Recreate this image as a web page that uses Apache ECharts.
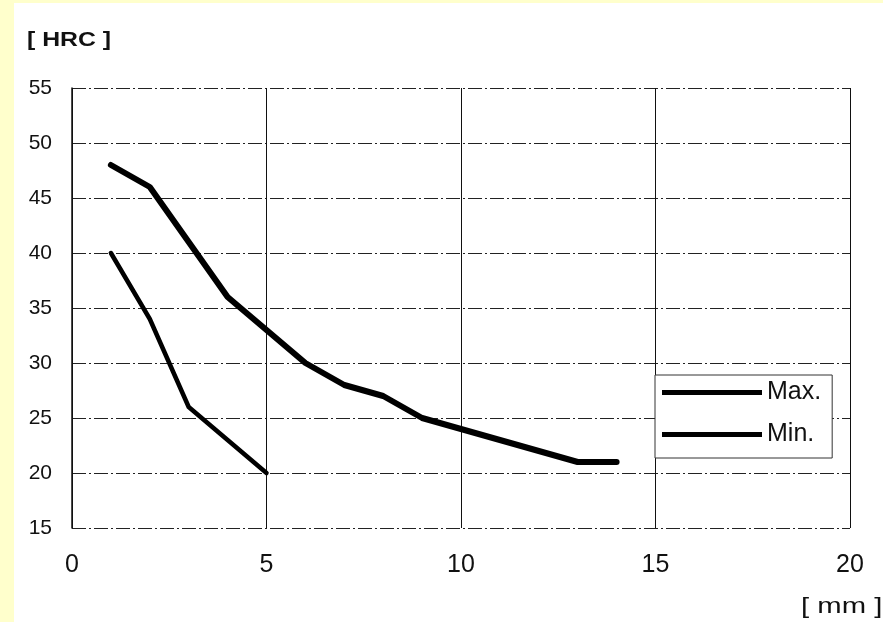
<!DOCTYPE html>
<html>
<head>
<meta charset="utf-8">
<script src="https://cdn.jsdelivr.net/npm/echarts@6/dist/echarts.min.js"></script>
<style>
html,body{margin:0;padding:0;background:#fff;}
#c{width:883px;height:622px;}
</style>
</head>
<body>
<div id="c"></div>
<script>
const depthMm = [1, 2, 3, 4, 5, 6, 7, 8, 9, 10, 11, 12, 13, 14];
const maxHrc = [48, 46, 41, 36, 33, 30, 28, 27, 25, 24, 23, 22, 21, 21];
const minDepthMm = [1, 2, 3, 4, 5];
const minHrc = [40, 34, 26, 23, 20];
const xTicks = [0, 5, 10, 15, 20];
const yTicks = [15, 20, 25, 30, 35, 40, 45, 50, 55];
const seriesNames = ['Max.', 'Min.'];
const yUnit = '[ HRC ]';
const xUnit = '[ mm ]';

const chart = echarts.init(document.getElementById('c'), null, {renderer: 'canvas'});
const pair = (xs, ys) => xs.map((x, i) => [x, ys[i]]);
const narrow = '"Liberation Sans Narrow", "Liberation Sans", Arial, sans-serif';
chart.setOption({
  backgroundColor: '#ffffff',
  animation: false,
  graphic: [
    {type: 'rect', left: 0, top: 0, shape: {width: 14, height: 622}, style: {fill: '#FFFFCC'}, z: -10},
    {type: 'rect', left: 0, top: 0, shape: {width: 883, height: 3}, style: {fill: '#FFFFCC'}, z: -10},
    {type: 'text', x: 27, y: 30, scaleX: 1.24, style: {text: yUnit, font: 'bold 20px "Liberation Sans", Arial, sans-serif', fill: '#111'}},
    {type: 'text', x: 801, y: 596, scaleX: 1.33, style: {text: xUnit, font: '22px "Liberation Sans", Arial, sans-serif', fill: '#111'}}
  ],
  grid: {left: 72, right: 33, top: 88, bottom: 94, containLabel: false},
  xAxis: {
    type: 'value', min: 0, max: 20, interval: 5,
    axisLine: {show: false},
    axisTick: {show: false},
    axisLabel: {margin: 25, fontSize: 25, color: '#111', fontFamily: narrow,
      formatter: v => xTicks.includes(v) ? String(v) : ''},
    splitLine: {show: true, lineStyle: {color: '#111', width: 1, type: 'solid'}}
  },
  yAxis: {
    type: 'value', min: 15, max: 55, interval: 5,
    axisLine: {show: true, onZero: false, lineStyle: {color: '#111', width: 1.5}},
    axisTick: {show: false},
    axisLabel: {margin: 20, fontSize: 21, color: '#111', fontFamily: '"Liberation Sans", Arial, sans-serif',
      formatter: v => yTicks.includes(v) ? String(v) : ''},
    splitLine: {show: true, lineStyle: {color: '#222', width: 1, type: [14, 3, 2, 3]}}
  },
  legend: {
    orient: 'vertical',
    left: 655, top: 375,
    padding: [5, 11, 11, 7],
    itemGap: 17,
    itemWidth: 100,
    itemHeight: 5,
    borderColor: '#333', borderWidth: 1,
    backgroundColor: '#fff',
    textStyle: {fontSize: 25, color: '#111', fontFamily: narrow},
    data: [
      {name: seriesNames[0], icon: 'rect', itemStyle: {color: '#000'}},
      {name: seriesNames[1], icon: 'rect', itemStyle: {color: '#000'}}
    ]
  },
  series: [
    {name: seriesNames[0], type: 'line', data: pair(depthMm, maxHrc), symbol: 'none',
      lineStyle: {color: '#000', width: 6, cap: 'round', join: 'round'}, itemStyle: {color: '#000'}},
    {name: seriesNames[1], type: 'line', data: pair(minDepthMm, minHrc), symbol: 'none',
      lineStyle: {color: '#000', width: 4.5, cap: 'round', join: 'round'}, itemStyle: {color: '#000'}}
  ]
});
</script>
</body>
</html>
